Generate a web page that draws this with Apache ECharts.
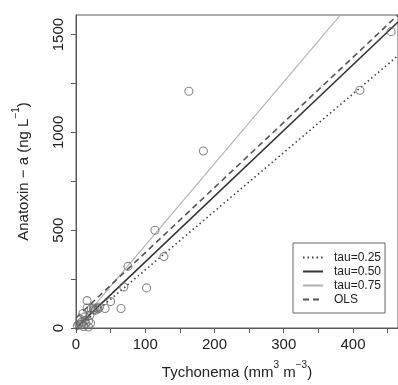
<!DOCTYPE html>
<html>
<head>
<meta charset="utf-8">
<script src="https://cdn.jsdelivr.net/npm/echarts@6/dist/echarts.min.js"></script>
<style>html,body{margin:0;padding:0;background:#fff}#c{width:398px;height:385px}</style>
</head>
<body>
<div id="c"></div>
<script>
// Observations: Tychonema biovolume (x) and Anatoxin-a (y)
const tychonema = [2, 4, 6, 8, 8, 10, 11, 13, 13, 14, 16, 18, 18, 20, 21, 22, 25, 26, 28, 30, 32, 34, 42, 16, 50, 65, 69, 75, 102, 114, 127, 163, 184, 410, 455];
const anatoxin  = [12, 20, 45, 18, 30, 74, 8, 40, 57, 24, 102, 35, 5, 65, 24, 99, 102, 94, 90, 102, 98, 107, 100, 140, 135, 100, 210, 315, 205, 500, 365, 1210, 905, 1215, 1515];
// Fitted lines
const fitNames = ['tau=0.25', 'tau=0.50', 'tau=0.75', 'OLS'];
const fitIntercepts = [-3, 2, 4, 52];
const fitSlopes = [3.0, 3.36, 4.18, 3.33];
// Axis ticks
const xTicks = [0, 50, 100, 150, 200, 250, 300, 350, 400, 450];
const xLabels = [0, 100, 200, 300, 400];
const yTicks = [0, 250, 500, 750, 1000, 1250, 1500];
const yLabels = [0, 500, 1000, 1500];

const X_MAX = 465, Y_MAX = 1600;
const fitStyles = [
  {color: '#444', width: 1.6, type: [1.5, 3]},
  {color: '#333', width: 1.6, type: 'solid'},
  {color: '#b0b0b0', width: 1.1, type: 'solid'},
  {color: '#555', width: 1.6, type: [6, 4]}
];

const chart = echarts.init(document.getElementById('c'), null, {renderer: 'canvas'});
const font = '"Liberation Sans", Arial, sans-serif';
const series = [{
  type: 'scatter',
  data: tychonema.map((x, i) => [x, anatoxin[i]]),
  symbol: 'circle',
  symbolSize: 8,
  itemStyle: {color: 'rgba(255,255,255,0)', borderColor: '#6a6a6a', borderWidth: 1.1},
  silent: true, z: 3
}];
fitNames.forEach((n, i) => {
  series.push({
    type: 'line', name: n, symbol: 'none', clip: true,
    data: [0, X_MAX].map(x => [x, fitIntercepts[i] + fitSlopes[i] * x]),
    lineStyle: fitStyles[i], itemStyle: {color: fitStyles[i].color},
    z: 2
  });
});

chart.setOption({
  animation: false,
  textStyle: {fontFamily: font},
  grid: {left: 76, right: -2, top: 15, bottom: 52, show: true, borderColor: '#5a5a5a', borderWidth: 1, containLabel: false},
  legend: {
    orient: 'vertical', left: 293, top: 243,
    data: fitNames,
    itemWidth: 20, itemHeight: 10, itemGap: 1,
    padding: [8, 4, 7, 9],
    borderColor: '#666', borderWidth: 1,
    backgroundColor: '#fff',
    itemStyle: {opacity: 0},
    textStyle: {fontSize: 12, color: '#222', padding: [0, 0, 0, 6], lineHeight: 13, fontFamily: font}
  },
  xAxis: {
    type: 'value', min: 0, max: X_MAX,
    name: '{n|Tychonema (mm}{s|3}{n| m}{s|−3}{n|)}',
    nameLocation: 'middle', nameGap: 32,
    nameTextStyle: {rich: {n: {fontSize: 15, color: '#222', fontFamily: font, lineHeight: 20, verticalAlign: 'bottom'}, s: {fontSize: 10, color: '#222', fontFamily: font, lineHeight: 20, verticalAlign: 'top'}}},
    axisLine: {show: true, onZero: false, lineStyle: {color: '#5a5a5a', width: 1}},
    axisTick: {show: true, length: 5, customValues: xTicks, lineStyle: {color: '#5a5a5a'}},
    axisLabel: {customValues: xLabels, fontSize: 15, color: '#222', margin: 9, fontFamily: font, formatter: v => String(v)},
    splitLine: {show: false}
  },
  yAxis: {
    type: 'value', min: 0, max: Y_MAX,
    name: '{n|Anatoxin − a (ng L}{s|−1}{n|)}',
    nameLocation: 'middle', nameGap: 45, nameRotate: 90,
    nameTextStyle: {rich: {n: {fontSize: 15, color: '#222', fontFamily: font, lineHeight: 20, verticalAlign: 'bottom'}, s: {fontSize: 10, color: '#222', fontFamily: font, lineHeight: 20, verticalAlign: 'top'}}},
    axisLine: {show: true, onZero: false, lineStyle: {color: '#5a5a5a', width: 1}},
    axisTick: {show: true, length: 5, customValues: yTicks, lineStyle: {color: '#5a5a5a'}},
    axisLabel: {customValues: yLabels, fontSize: 15, color: '#222', rotate: 90, margin: 10, fontFamily: font, formatter: v => String(v)},
    splitLine: {show: false}
  },
  series: series
});
</script>
</body>
</html>
